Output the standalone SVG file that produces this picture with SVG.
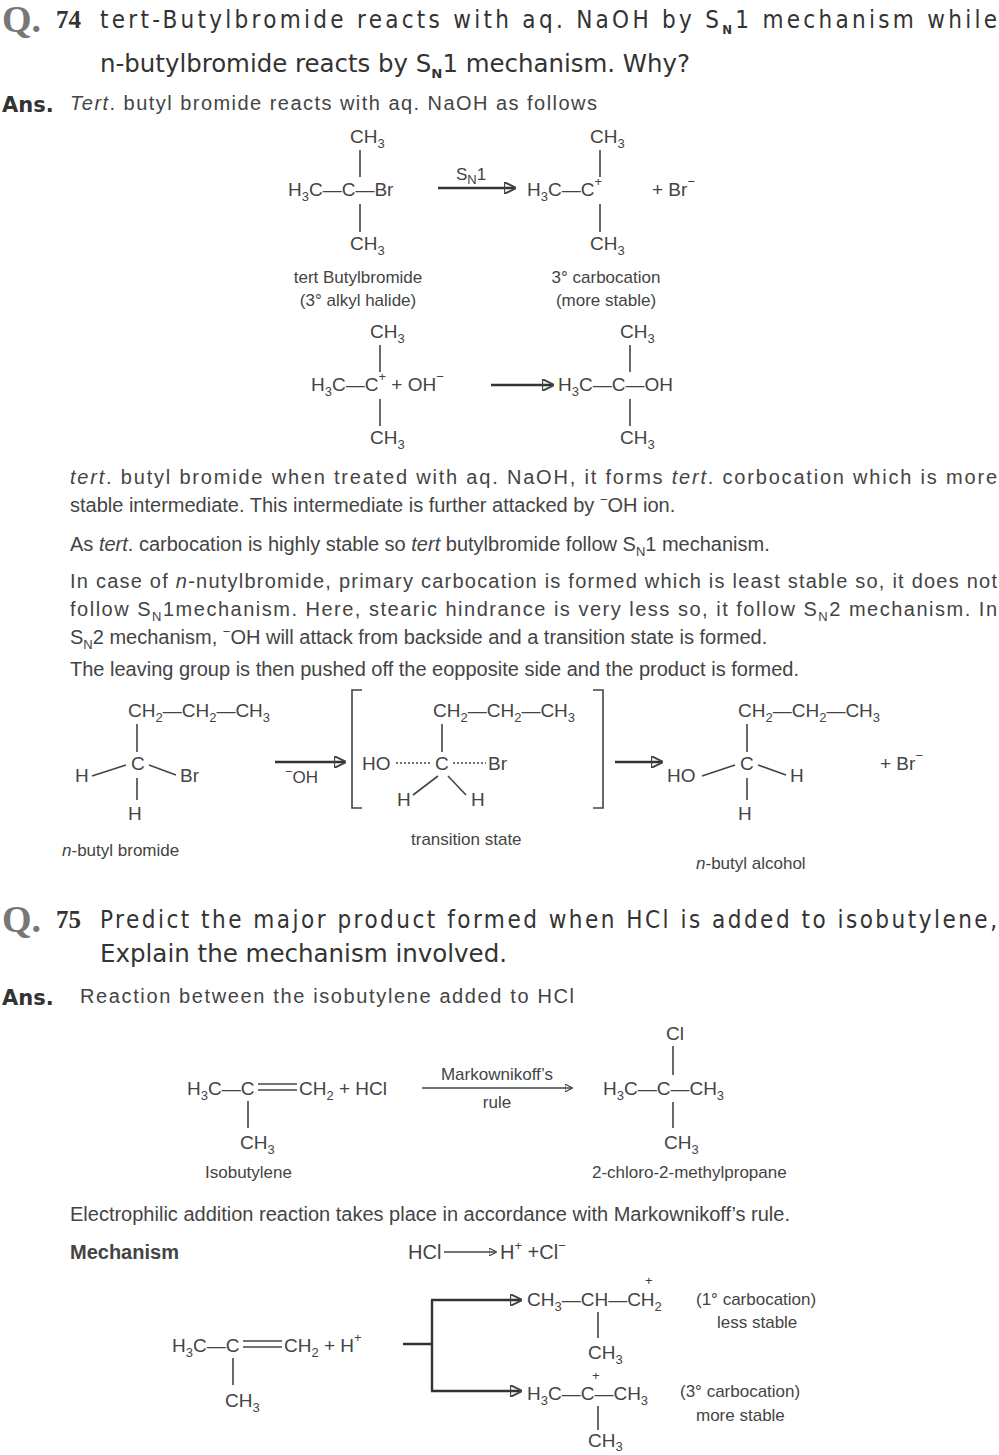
<svg xmlns="http://www.w3.org/2000/svg" width="999" height="1455" viewBox="0 0 999 1455">
<style>
text{font-family:"Liberation Sans",Arial,sans-serif;fill:#3a3a3a}
.q{font-family:"Liberation Serif",serif;font-weight:bold;fill:#777;font-size:38px}
.qn{font-family:"Liberation Serif",serif;font-weight:bold;fill:#333;font-size:25px}
.h{font-family:"DejaVu Sans Condensed","DejaVu Sans",sans-serif;font-stretch:condensed;font-size:24px;fill:#333}
.ans{font-family:"DejaVu Sans",sans-serif;font-weight:bold;font-size:21px;fill:#333}
.b{font-size:20px;fill:#444}
.c{font-size:19px;fill:#444}
.s{font-size:17px;fill:#444}
.sub{font-size:13px}
line,path{stroke:#444;stroke-width:1.6;fill:none}
.ar{stroke:#333;stroke-width:2.4}
</style>
<defs><marker id="ah" viewBox="0 0 10 10" refX="9" refY="5" markerWidth="5" markerHeight="5" orient="auto"><path d="M0,0L10,5L0,10z" fill="#333" stroke="none"/></marker></defs>

<g id="q74">
<text class="q" x="2" y="32">Q.</text><text class="qn" x="56" y="28">74</text>
<text class="h" x="100" y="28" textLength="897" lengthAdjust="spacing">tert-Butylbromide reacts with aq. NaOH by S<tspan class="sub" dy="6" font-weight="bold">N</tspan><tspan dy="-6">1 mechanism while</tspan></text>
<text class="h" x="100" y="72" textLength="590" lengthAdjust="spacingAndGlyphs">n-butylbromide reacts by S<tspan class="sub" dy="6" font-weight="bold">N</tspan><tspan dy="-6">1 mechanism. Why?</tspan></text>
<text class="ans" x="2" y="112">Ans.</text>
<text class="b" x="70" y="110" textLength="527"><tspan font-style="italic">Tert</tspan>. butyl bromide reacts with aq. NaOH as follows</text>
</g>

<g id="tbubr">
<text class="c" x="350" y="143">CH<tspan class="sub" dy="5">3</tspan></text>
<line x1="360" y1="150" x2="360" y2="177"/>
<text class="c" x="288" y="196">H<tspan class="sub" dy="5">3</tspan><tspan dy="-5">C—C—Br</tspan></text>
<line x1="360" y1="204" x2="360" y2="232"/>
<text class="c" x="350" y="250">CH<tspan class="sub" dy="5">3</tspan></text>
<text class="s" x="358" y="283" text-anchor="middle">tert Butylbromide</text>
<text class="s" x="358" y="306" text-anchor="middle">(3° alkyl halide)</text>
</g>
<g id="carbocation1">
<text class="c" x="590" y="143">CH<tspan class="sub" dy="5">3</tspan></text>
<line x1="600" y1="150" x2="600" y2="177"/>
<text class="c" x="527" y="196">H<tspan class="sub" dy="5">3</tspan><tspan dy="-5">C—C</tspan><tspan class="sub" dy="-10">+</tspan></text>
<line x1="600" y1="204" x2="600" y2="232"/>
<text class="c" x="590" y="250">CH<tspan class="sub" dy="5">3</tspan></text>
<text class="c" x="652" y="196">+ Br<tspan class="sub" dy="-10">−</tspan></text>
<text class="s" x="606" y="283" text-anchor="middle">3° carbocation</text>
<text class="s" x="606" y="306" text-anchor="middle">(more stable)</text>
</g>
<g id="carbocation2">
<text class="c" x="370" y="338">CH<tspan class="sub" dy="5">3</tspan></text>
<line x1="380" y1="345" x2="380" y2="372"/>
<text class="c" x="311" y="391">H<tspan class="sub" dy="5">3</tspan><tspan dy="-5">C—C</tspan><tspan class="sub" dy="-10">+</tspan><tspan dy="10">  +  OH</tspan><tspan class="sub" dy="-10">−</tspan></text>
<line x1="380" y1="399" x2="380" y2="426"/>
<text class="c" x="370" y="444">CH<tspan class="sub" dy="5">3</tspan></text>
</g>
<g id="alcohol1">
<text class="c" x="620" y="338">CH<tspan class="sub" dy="5">3</tspan></text>
<line x1="630" y1="345" x2="630" y2="372"/>
<text class="c" x="558" y="391">H<tspan class="sub" dy="5">3</tspan><tspan dy="-5">C—C—OH</tspan></text>
<line x1="630" y1="399" x2="630" y2="426"/>
<text class="c" x="620" y="444">CH<tspan class="sub" dy="5">3</tspan></text>
</g>

<g id="text74">
<text class="b" x="70" y="484" textLength="927" lengthAdjust="spacing"><tspan font-style="italic">tert</tspan>. butyl bromide when treated with aq. NaOH, it forms <tspan font-style="italic">tert</tspan>.  corbocation which is more</text>
<text class="b" x="70" y="512">stable intermediate. This intermediate is further attacked by <tspan class="sub" dy="-8">−</tspan><tspan dy="8">OH ion.</tspan></text>
<text class="b" x="70" y="551">As <tspan font-style="italic">tert</tspan>. carbocation is highly stable so <tspan font-style="italic">tert</tspan> butylbromide follow S<tspan class="sub" dy="5">N</tspan><tspan dy="-5">1 mechanism.</tspan></text>
<text class="b" x="70" y="588" textLength="927" lengthAdjust="spacing">In case of <tspan font-style="italic">n</tspan>-nutylbromide, primary carbocation is formed which is least stable so, it does not</text>
<text class="b" x="70" y="616" textLength="927" lengthAdjust="spacing">follow S<tspan class="sub" dy="5">N</tspan><tspan dy="-5">1mechanism. Here, stearic hindrance is very less so, it follow S</tspan><tspan class="sub" dy="5">N</tspan><tspan dy="-5">2 mechanism. In</tspan></text>
<text class="b" x="70" y="644">S<tspan class="sub" dy="5">N</tspan><tspan dy="-5">2 mechanism, </tspan><tspan class="sub" dy="-8">−</tspan><tspan dy="8">OH will attack from backside and a transition state is formed.</tspan></text>
<text class="b" x="70" y="676">The leaving group is then pushed off the eopposite side and the product is formed.</text>
</g>

<g id="nbubr">
<text class="c" x="128" y="717">CH<tspan class="sub" dy="5">2</tspan><tspan dy="-5">—CH</tspan><tspan class="sub" dy="5">2</tspan><tspan dy="-5">—CH</tspan><tspan class="sub" dy="5">3</tspan></text>
<line x1="137" y1="724" x2="137" y2="752"/>
<text class="c" x="131" y="770">C</text>
<text class="c" x="75" y="782">H</text>
<text class="c" x="180" y="782">Br</text>
<line x1="92" y1="776" x2="126" y2="765" stroke-width="3"/>
<line x1="149" y1="765" x2="176" y2="775" stroke-width="3"/>
<line x1="137" y1="778" x2="137" y2="800"/>
<text class="c" x="128" y="820">H</text>
<text class="s" x="62" y="856"><tspan font-style="italic">n</tspan>-butyl bromide</text>
</g>
<g id="ts">
<path d="M362,690H352V808H362"/>
<path d="M593,690H603V808H593"/>
<text class="c" x="433" y="717">CH<tspan class="sub" dy="5">2</tspan><tspan dy="-5">—CH</tspan><tspan class="sub" dy="5">2</tspan><tspan dy="-5">—CH</tspan><tspan class="sub" dy="5">3</tspan></text>
<line x1="442" y1="724" x2="442" y2="752"/>
<text class="c" x="362" y="770">HO</text>
<line x1="396" y1="763" x2="430" y2="763" stroke-dasharray="2,2"/>
<text class="c" x="435" y="770">C</text>
<line x1="453" y1="763" x2="486" y2="763" stroke-dasharray="2,2"/>
<text class="c" x="488" y="770">Br</text>
<line x1="438" y1="776" x2="413" y2="795" stroke-width="3"/>
<line x1="448" y1="776" x2="466" y2="795" stroke-width="3"/>
<text class="c" x="397" y="806">H</text>
<text class="c" x="471" y="806">H</text>
<text class="s" x="411" y="845">transition state</text>
</g>
<g id="nbuoh">
<text class="c" x="738" y="717">CH<tspan class="sub" dy="5">2</tspan><tspan dy="-5">—CH</tspan><tspan class="sub" dy="5">2</tspan><tspan dy="-5">—CH</tspan><tspan class="sub" dy="5">3</tspan></text>
<line x1="747" y1="724" x2="747" y2="752"/>
<text class="c" x="740" y="770">C</text>
<text class="c" x="667" y="782">HO</text>
<text class="c" x="790" y="782">H</text>
<line x1="702" y1="776" x2="735" y2="765" stroke-width="3"/>
<line x1="758" y1="765" x2="786" y2="775" stroke-width="3"/>
<line x1="747" y1="778" x2="747" y2="800"/>
<text class="c" x="738" y="820">H</text>
<text class="c" x="880" y="770">+ Br<tspan class="sub" dy="-10">−</tspan></text>
<text class="s" x="696" y="869"><tspan font-style="italic">n</tspan>-butyl alcohol</text>
</g>

<g id="q75">
<text class="q" x="2" y="932">Q.</text><text class="qn" x="56" y="928">75</text>
<text class="h" x="100" y="928" textLength="897" lengthAdjust="spacing">Predict the major product formed when HCl is added to isobutylene,</text>
<text class="h" x="100" y="962" textLength="407" lengthAdjust="spacingAndGlyphs">Explain the mechanism involved.</text>
<text class="ans" x="2" y="1005">Ans.</text>
<text class="b" x="80" y="1003" textLength="494">Reaction between the isobutylene added to HCl</text>
</g>
<g id="isobutylene">
<text class="c" x="187" y="1095">H<tspan class="sub" dy="5">3</tspan><tspan dy="-5">C—C</tspan></text>
<line x1="258" y1="1084" x2="297" y2="1084"/><line x1="258" y1="1090" x2="297" y2="1090"/>
<text class="c" x="299" y="1095">CH<tspan class="sub" dy="5">2</tspan><tspan dy="-5">  +  HCl</tspan></text>
<line x1="248" y1="1101" x2="248" y2="1128"/>
<text class="c" x="240" y="1149">CH<tspan class="sub" dy="5">3</tspan></text>
<text class="s" x="205" y="1178">Isobutylene</text>
</g>
<g id="chloro">
<text class="c" x="666" y="1040">Cl</text>
<line x1="673" y1="1046" x2="673" y2="1075"/>
<text class="c" x="603" y="1095">H<tspan class="sub" dy="5">3</tspan><tspan dy="-5">C—C—CH</tspan><tspan class="sub" dy="5">3</tspan></text>
<line x1="673" y1="1102" x2="673" y2="1128"/>
<text class="c" x="664" y="1149">CH<tspan class="sub" dy="5">3</tspan></text>
<text class="s" x="592" y="1178">2-chloro-2-methylpropane</text>
</g>
<g id="text75">
<text class="b" x="70" y="1221">Electrophilic addition reaction takes place in accordance with Markownikoff’s rule.</text>
<text class="b" x="70" y="1259" font-weight="bold">Mechanism</text>
<text class="b" x="408" y="1259">HCl</text>
<text class="b" x="500" y="1259">H<tspan class="sub" dy="-9">+</tspan><tspan dy="9"> +Cl</tspan><tspan class="sub" dy="-9">−</tspan></text>
</g>
<g id="isobut2">
<text class="c" x="172" y="1352">H<tspan class="sub" dy="5">3</tspan><tspan dy="-5">C—C</tspan></text>
<line x1="243" y1="1341" x2="282" y2="1341"/><line x1="243" y1="1347" x2="282" y2="1347"/>
<text class="c" x="284" y="1352">CH<tspan class="sub" dy="5">2</tspan><tspan dy="-5">  +  H</tspan><tspan class="sub" dy="-10">+</tspan></text>
<line x1="233" y1="1358" x2="233" y2="1385"/>
<text class="c" x="225" y="1407">CH<tspan class="sub" dy="5">3</tspan></text>
</g>
<g id="cat1">
<text class="c" x="527" y="1306">CH<tspan class="sub" dy="5">3</tspan><tspan dy="-5">—CH—CH</tspan><tspan class="sub" dy="5">2</tspan></text>
<text class="sub" x="645" y="1285">+</text>
<line x1="598" y1="1312" x2="598" y2="1338"/>
<text class="c" x="588" y="1359">CH<tspan class="sub" dy="5">3</tspan></text>
<text class="s" x="696" y="1305">(1° carbocation)</text>
<text class="s" x="717" y="1328">less stable</text>
</g>
<g id="cat3">
<text class="c" x="527" y="1400">H<tspan class="sub" dy="5">3</tspan><tspan dy="-5">C—C—CH</tspan><tspan class="sub" dy="5">3</tspan></text>
<text class="sub" x="592" y="1380">+</text>
<line x1="598" y1="1406" x2="598" y2="1430"/>
<text class="c" x="588" y="1447">CH<tspan class="sub" dy="4">3</tspan></text>
<text class="s" x="680" y="1397">(3° carbocation)</text>
<text class="s" x="696" y="1421">more stable</text>
</g>

<g id="connectors">
<line class="ar" x1="438" y1="188" x2="515" y2="188" marker-end="url(#ah)"/>
<text class="s" x="456" y="180">S<tspan class="sub" dy="4">N</tspan><tspan dy="-4">1</tspan></text>
<line class="ar" x1="491" y1="385" x2="553" y2="385" marker-end="url(#ah)"/>
<line class="ar" x1="275" y1="762" x2="345" y2="762" marker-end="url(#ah)"/>
<text class="s" x="285" y="783"><tspan class="sub" dy="-7">−</tspan><tspan dy="7">OH</tspan></text>
<line class="ar" x1="615" y1="762" x2="662" y2="762" marker-end="url(#ah)"/>
<line x1="422" y1="1088" x2="572" y2="1088" marker-end="url(#ah)" stroke-width="1.8"/>
<text class="s" x="497" y="1080" text-anchor="middle">Markownikoff’s</text>
<text class="s" x="497" y="1108" text-anchor="middle">rule</text>
<line x1="444" y1="1252" x2="496" y2="1252" marker-end="url(#ah)" stroke-width="1.4"/>
<path class="ar" d="M403,1344H432M432,1300V1391"/>
<line class="ar" x1="431" y1="1300" x2="521" y2="1300" marker-end="url(#ah)"/>
<line class="ar" x1="431" y1="1391" x2="521" y2="1391" marker-end="url(#ah)"/>
</g>
</svg>
